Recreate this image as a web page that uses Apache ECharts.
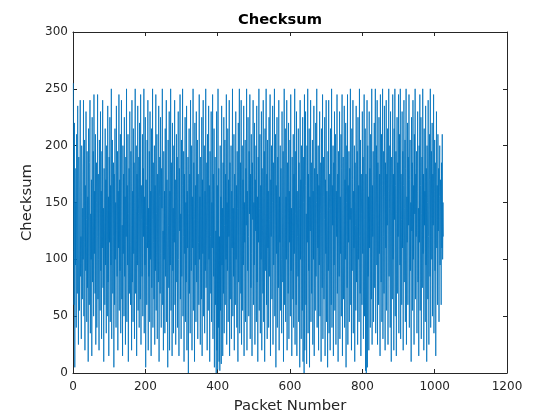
<!doctype html>
<html>
<head>
<meta charset="UTF-8" />
<title>Checksum</title>
<script src="https://cdn.jsdelivr.net/npm/echarts@6/dist/echarts.min.js"></script>
<style>
  html, body { margin: 0; padding: 0; background: #fff; }
  #chart { width: 560px; height: 420px; }
</style>
</head>
<body>
<div id="chart"></div>
<script>
// checksum per packet (packet 1..1024)
var checksum = [
  255,108,60,220,5,180,95,150,40,210,130,70,235,110,25,190,160,55,140,240,85,120,30,200,175,65,145,100,240,50,115,205,
  20,165,90,230,135,45,195,75,155,10,215,125,60,185,240,35,140,100,170,15,225,80,130,195,50,245,105,160,70,210,25,150,
  185,40,120,245,65,175,100,20,205,140,55,230,90,160,30,195,110,240,75,145,10,180,125,60,215,95,170,35,200,130,50,235,
  80,155,15,190,115,225,45,165,95,250,30,140,205,70,120,185,5,175,60,215,100,150,40,235,125,85,195,20,160,110,245,55,
  170,90,210,35,145,240,65,130,15,200,105,175,50,225,85,155,25,190,120,250,45,165,95,210,10,140,180,70,230,115,60,195,
  130,20,240,80,160,45,215,105,185,30,150,250,70,125,200,15,175,95,235,55,140,190,40,220,110,65,245,25,165,135,85,210,
  50,180,120,250,35,155,95,225,5,170,130,60,205,110,240,20,145,85,195,45,230,100,160,15,215,75,135,250,40,185,115,65,
  200,25,165,90,245,55,140,210,30,175,120,80,235,10,155,190,70,225,105,40,180,145,250,60,125,20,195,100,160,35,215,85,
  150,240,45,170,110,5,205,130,75,230,20,160,95,250,55,185,125,15,220,90,145,35,200,115,240,60,170,25,135,210,80,190,
  40,155,230,100,15,180,125,245,65,140,30,205,85,165,250,50,120,195,10,175,105,225,45,150,80,235,20,160,110,190,0,140,
  215,70,175,35,240,125,90,200,20,155,110,250,55,185,135,10,220,95,165,45,230,80,145,205,30,175,115,60,245,100,155,25,
  190,130,65,225,15,170,105,240,50,145,200,35,160,90,250,75,125,185,20,210,140,55,235,100,165,10,195,120,70,230,45,150,
  110,245,30,175,85,215,5,140,190,60,125,0,230,20,165,3,250,40,180,10,120,2,200,55,155,8,235,95,145,15,185,70,
  225,35,130,205,60,175,100,245,25,150,90,215,45,170,120,240,15,185,65,135,200,30,160,110,250,50,145,85,210,20,175,125,
  60,230,100,165,40,195,145,10,220,80,155,250,35,120,185,70,240,25,140,200,55,170,95,235,15,150,115,205,45,180,130,250,
  20,160,90,225,120,50,195,140,245,30,175,75,210,105,15,185,135,240,60,150,95,220,25,170,125,200,45,235,80,155,10,190,
  115,250,55,145,210,35,165,100,230,20,180,125,70,240,45,155,195,10,215,90,140,250,60,175,30,205,110,160,40,225,85,135,
  245,15,170,120,200,65,150,235,25,185,95,140,250,50,130,210,5,165,105,225,40,190,145,75,240,20,155,115,200,55,180,100,
  35,230,140,80,195,10,170,250,60,125,215,45,155,100,240,20,185,135,70,220,30,160,115,205,50,245,90,145,15,190,125,65,
  210,40,175,105,250,25,140,195,60,230,15,160,120,85,215,45,185,145,5,240,100,170,30,200,130,55,225,10,150,190,0,245,
  20,165,230,60,140,8,200,115,250,35,175,90,215,5,155,125,240,45,185,70,130,205,25,160,100,235,15,180,145,55,220,85,
  150,250,40,175,110,200,20,165,95,230,50,140,185,10,215,120,75,245,30,155,190,65,135,225,15,170,105,240,45,160,125,5,
  195,90,240,35,145,175,20,215,110,60,250,40,165,130,200,15,185,95,230,55,140,210,25,160,120,245,70,175,10,195,135,85,
  230,30,155,105,210,50,180,245,15,140,190,65,125,235,40,170,100,220,5,150,200,75,245,25,165,115,195,45,180,135,250,60,
  145,20,215,90,170,240,35,160,110,200,10,185,130,55,235,80,150,195,25,225,100,165,45,250,120,70,205,15,175,140,60,230,
  105,190,30,160,245,50,135,215,2,175,0,125,240,5,200,85,155,20,230,110,180,40,210,145,65,250,25,165,120,195,45,140,
  220,75,170,250,35,150,200,95,240,25,185,130,60,225,105,175,15,245,140,80,210,45,165,250,30,120,195,70,235,155,20,185,
  110,240,55,175,130,215,25,160,250,85,145,200,40,230,120,10,190,155,65,245,100,175,20,215,135,250,50,165,195,15,140,225,
  70,185,120,245,35,160,210,95,250,30,175,135,60,230,110,195,20,165,240,80,145,205,45,180,250,25,155,115,220,60,190,130,
  245,40,170,205,90,150,10,225,125,185,55,240,100,165,25,210,140,250,65,175,120,195,35,160,230,80,145,15,200,115,245,55,
  165,225,30,140,190,75,250,105,175,20,215,130,160,45,235,95,180,10,200,150,65,240,120,25,170,210,85,250,40,155,195,100,
  220,50,175,130,245,35,160,205,90,185,15,140,230,110,165,60,210,125,180,45,155,200,95,170,140,60,185,110,210,100,150,120
];
var xTicks = [0, 200, 400, 600, 800, 1000, 1200];
var yTicks = [0, 50, 100, 150, 200, 250, 300];

var points = checksum.map(function (v, i) { return [i + 1, v]; });

var chart = echarts.init(document.getElementById('chart'), null, { renderer: 'canvas' });

var axisColor = '#262626';
var font = 'DejaVu Sans';

// 盒子外框: 上方與右方再加一條無標籤的軸
function boxAxis(pos, ticks) {
  return {
    type: 'value',
    position: pos,
    min: ticks[0],
    max: ticks[ticks.length - 1],
    interval: ticks[1] - ticks[0],
    axisLine: { show: true, onZero: false, lineStyle: { color: axisColor, width: 1 } },
    axisTick: { show: true, inside: true, length: 4, lineStyle: { color: axisColor } },
    axisLabel: { show: false },
    splitLine: { show: false }
  };
}

var option = {
  animation: false,
  backgroundColor: '#fff',
  title: {
    text: 'Checksum',
    left: 'center',
    top: 8,
    textStyle: { fontFamily: font, fontSize: 14.7, fontWeight: 'bold', color: '#000' }
  },
  grid: { left: 73, right: 53, top: 32, bottom: 47, containLabel: false },
  xAxis: [{
    type: 'value',
    position: 'bottom',
    min: xTicks[0],
    max: xTicks[xTicks.length - 1],
    interval: xTicks[1] - xTicks[0],
    name: 'Packet Number',
    nameLocation: 'middle',
    nameGap: 26,
    nameTextStyle: { fontFamily: font, fontSize: 14.8, color: axisColor },
    axisLine: { show: true, onZero: false, lineStyle: { color: axisColor, width: 1 } },
    axisTick: { show: true, inside: true, length: 4, lineStyle: { color: axisColor } },
    axisLabel: {
      fontFamily: font, fontSize: 12, color: axisColor, margin: 8,
      formatter: function (v) { return String(v); }
    },
    splitLine: { show: false }
  }, boxAxis('top', xTicks)],
  yAxis: [{
    type: 'value',
    position: 'left',
    min: yTicks[0],
    max: yTicks[yTicks.length - 1],
    interval: yTicks[1] - yTicks[0],
    name: 'Checksum',
    nameLocation: 'middle',
    nameGap: 29,
    nameTextStyle: { fontFamily: font, fontSize: 14.8, color: axisColor },
    axisLine: { show: true, onZero: false, lineStyle: { color: axisColor, width: 1 } },
    axisTick: { show: true, inside: true, length: 4, lineStyle: { color: axisColor } },
    axisLabel: {
      fontFamily: font, fontSize: 12, color: axisColor, margin: 5,
      formatter: function (v) { return String(v); }
    },
    splitLine: { show: false }
  }, boxAxis('right', yTicks)],
  series: [{
    type: 'line',
    data: points,
    showSymbol: false,
    symbol: 'none',
    lineStyle: { color: '#0072BD', width: 0.8 },
    itemStyle: { color: '#0072BD' }
  }]
};

chart.setOption(option);
</script>
</body>
</html>
